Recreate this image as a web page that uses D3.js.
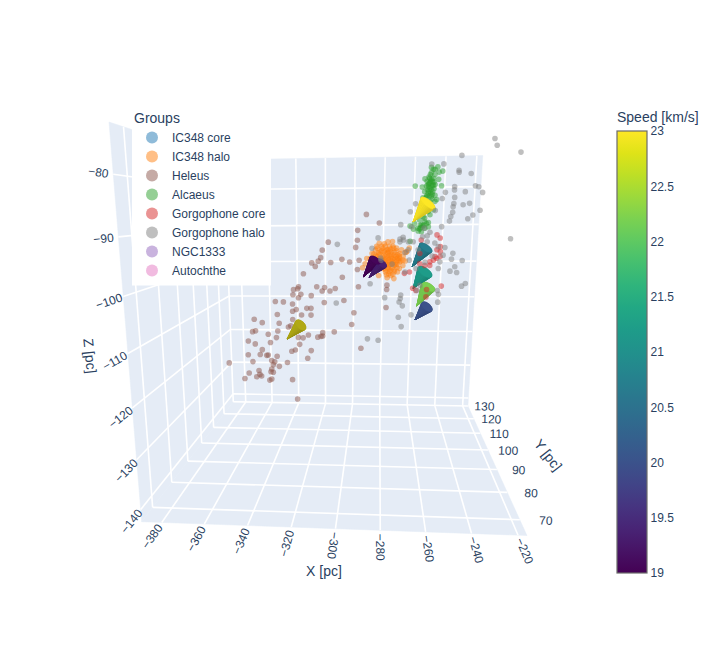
<!DOCTYPE html>
<html><head><meta charset="utf-8">
<script src="https://cdnjs.cloudflare.com/ajax/libs/d3/7.8.5/d3.min.js"></script>
<style>html,body{margin:0;padding:0;background:#fff}svg{display:block;font-family:"Liberation Sans",Arial,sans-serif}</style>
</head><body><div id="chart"></div>
<script>
// ---------- axis values ----------
const xDomain = [-389.5, -216.2], yDomain = [65, 130], zDomain = [-142.5, -72];
const xTicks = [-380,-360,-340,-320,-300,-280,-260,-240,-220];
const yTicks = [70,80,90,100,110,120,130];
const zTicks = [-140,-130,-120,-110,-100,-90,-80];
const speedDomain = [19, 23];
const speedTicks = [19,19.5,20,20.5,21,21.5,22,22.5,23];
const groupNames = ["IC348 core","IC348 halo","Heleus","Alcaeus","Gorgophone core","Gorgophone halo","NGC1333","Autochthe"];
const groupColors = ["#1f77b4","#ff7f0e","#8c564b","#2ca02c","#d62728","#7f7f7f","#9467bd","#e377c2"];
// depth of the stars along Y cannot be read: an estimate
const planeY = 100.75;

// ---------- stars: [x, z] in pc ----------
const heleus = [[-295,-90.4],[-295.1,-92.6],[-296,-94.2],[-311.4,-93],[-314.8,-94.8],[-315.7,-96.5],[-317.1,-97.3],[-320.8,-97.7],[-318.8,-98.5],[-310,-97.6],[-303.7,-96.9],[-299.3,-97.5],[-294,-97.1],[-294.9,-99.2],[-325.6,-100.2],[-303.4,-101],[-318,-103.2],[-313.5,-103.4],[-314.9,-104.2],[-310.4,-104.2],[-307.4,-103.6],[-328.5,-103.2],[-329,-103.7],[-331.4,-103.9],[-327.2,-105],[-328.6,-105.8],[-331.8,-105.1],[-321.2,-105.3],[-294.2,-103.2],[-342.1,-106.7],[-337.4,-106.8],[-332.1,-107.3],[-313.7,-106.9],[-302.4,-106.4],[-296.6,-109.3],[-330,-108.6],[-332.1,-109],[-323.8,-108.3],[-321.4,-108.3],[-341.1,-109.8],[-326.9,-109.9],[-321.4,-109.9],[-297.8,-112.1],[-354.8,-111],[-350.1,-111.8],[-332.1,-111],[-340.1,-111.9],[-356,-114],[-354.2,-113.8],[-341,-113.8],[-334.7,-112.8],[-333.3,-112.5],[-346.7,-114.6],[-341.9,-115.4],[-314.6,-114.1],[-307.9,-113.9],[-323,-114.7],[-317.5,-115.2],[-315.6,-115],[-314.6,-114.9],[-328.9,-115.3],[-326.1,-115.4],[-358.7,-116.3],[-354.6,-117],[-345.5,-116.6],[-328.2,-117],[-292.3,-117.8],[-350.5,-118.4],[-321.4,-118.5],[-332.9,-118.7],[-330.8,-118.4],[-351.8,-119.6],[-359,-119.7],[-347.9,-119.8],[-347,-119.7],[-341.7,-120],[-323.5,-120.4],[-356.3,-121.4],[-370.7,-121.8],[-345,-121.1],[-343.2,-121.4],[-335.6,-121.5],[-340.5,-122.5],[-344.1,-122.1],[-345.1,-123.2],[-345.6,-123.9],[-344.2,-124],[-352.8,-123.6],[-358.8,-124.3],[-352.3,-124.6],[-351.3,-125],[-354.3,-125.2],[-361.5,-125.7],[-346.4,-126],[-345.2,-125.7],[-332.7,-125.8],[-329.8,-130.7],[-290.3,-86.9],[-283.1,-88.8],[-278.1,-102.8],[-278.2,-103.8],[-278.3,-108]];
const ic348Halo = [[-275.6,-92.9],[-278.1,-93],[-280.1,-93.4],[-282.9,-93.3],[-281.6,-94],[-284.3,-94],[-277.2,-94],[-274.9,-94.4],[-279.1,-94.8],[-282,-95.2],[-284.9,-94.8],[-276.2,-95.2],[-273.3,-95],[-286.8,-95.6],[-280.1,-96],[-277.2,-96],[-274.3,-96],[-271.4,-95.6],[-269.5,-96.2],[-285.8,-96.7],[-282.9,-96.7],[-279.1,-96.9],[-275.3,-96.9],[-272.4,-96.7],[-270.8,-97.3],[-268.2,-97.3],[-289.7,-96.7],[-287.7,-98],[-282,-97.9],[-278.5,-98],[-275.6,-97.9],[-272.8,-98],[-269.5,-98.3],[-292,-98.8],[-280.1,-99],[-277.2,-99],[-274.3,-99.3],[-271.4,-99],[-277.2,-100.2],[-274.9,-100.3],[-282.9,-100.6],[-278.1,-101.1],[-274.3,-101.3],[-283.9,-98],[-267.6,-95.2],[-284.9,-97.5],[-281,-97.1],[-277.2,-97.5],[-274.3,-97.1],[-290.6,-97.9],[-272.4,-99.8],[-270.5,-94.8],[-268,-95.3],[-266.2,-94.4],[-283.9,-94.4],[-281,-94.4],[-278.1,-94.7],[-280.1,-95.2],[-278.1,-95.4],[-282.9,-95.7],[-281,-96.3],[-278.1,-96.3],[-276.2,-96.3],[-273.3,-96.3],[-283.9,-96.2],[-282,-97.3],[-279.1,-97.5],[-276.2,-97.3],[-273.3,-97.5],[-271.4,-97.5],[-280.1,-98.3],[-277.2,-98.3],[-274.3,-98.3],[-276.2,-99.4],[-279.1,-99.8],[-282,-99],[-271.4,-96.7],[-269.5,-97.1],[-285.8,-95.7],[-287.7,-96.7],[-275.3,-94],[-273.3,-94.4],[-279.5,-94],[-276.5,-94.6],[-281.5,-95],[-277.5,-95.1],[-274.5,-95.3],[-283.2,-95.4],[-279,-95.7],[-275.7,-95.8],[-272.5,-95.9],[-284.6,-96.1],[-280.7,-96.6],[-277.8,-96.7],[-274.8,-96.6],[-271.7,-96.2],[-283.2,-97],[-280.3,-97.2],[-277.7,-97.1],[-275,-97.6],[-272.3,-97.1],[-281.4,-97.8],[-278.9,-98.1],[-276.4,-98],[-273.6,-98.1],[-280.9,-98.7],[-278,-98.8],[-275.4,-98.8],[-272.7,-98.7],[-279.2,-99.3],[-276.9,-99.6],[-274.1,-99.7],[-278.5,-100.4],[-276,-100.6]];
const alcaeus = [[-252.4,-76.9],[-254.7,-77.4],[-249.7,-77.8],[-251.6,-78],[-256.2,-78.5],[-259,-79.4],[-254.5,-79.3],[-251.7,-79.5],[-256.3,-80.2],[-264.1,-80.9],[-260.3,-81.1],[-254.3,-80.8],[-250,-80.9],[-257.5,-81.7],[-254.6,-82.1],[-257.6,-82.9],[-253.3,-82.9],[-256,-84.2],[-252.3,-83.8],[-259.5,-85.3],[-260.4,-86.7],[-256.6,-86.4],[-253.8,-86],[-258.4,-87.8],[-261.1,-88.2],[-263.8,-89],[-256.3,-88.8],[-266.2,-89.5],[-261.8,-90],[-258.1,-90],[-259.9,-90.8],[-261.7,-90.6],[-256.2,-89.7],[-265.9,-92.9],[-255.5,-79.5],[-257.2,-80.6],[-253.5,-80.6],[-256.2,-81.3],[-258.9,-82.1],[-255.2,-83.1],[-259.7,-83.4],[-257.9,-84.2],[-255.7,-78.1],[-256.9,-79],[-253.8,-78.5],[-258.1,-80.9],[-254,-81.5],[-259.3,-87.5],[-255.6,-87.1],[-260.6,-89.3],[-264.3,-90.2],[-257.3,-89],[-255.9,-79.9],[-257.8,-79.9],[-254.1,-80.1],[-255.3,-81],[-257,-82.4],[-255.7,-82.4],[-258.2,-83.4],[-253.2,-84.2],[-255.9,-84.9],[-257.3,-85.6],[-255.8,-77],[-253.8,-77.4],[-258.3,-88.6],[-259.4,-89.7],[-260.9,-90.2],[-256.5,-79.3],[-255,-79.9],[-256.7,-80.4],[-254.9,-80.7],[-257.1,-81.1],[-255.5,-81.7],[-256.6,-82],[-254.8,-82.7],[-256.3,-83],[-257.7,-83.2],[-254.9,-83.7],[-259.9,-89.3],[-258.9,-89.3],[-260.4,-89.9]];
const gorgophoneCore = [[-251.3,-91.5],[-249.5,-92.2],[-259.8,-92.6],[-249.2,-94.1],[-249.1,-95.2],[-251,-94.8],[-249.1,-96.3],[-251,-96.7],[-252.7,-97.1],[-254.6,-97.5],[-251.9,-96.3],[-260.3,-95.6],[-260.2,-97.9],[-257.4,-98.3],[-254.6,-98.3],[-265.7,-99.8],[-268.5,-100.1],[-247.7,-103],[-263.6,-103.5],[-255.8,-103.8],[-261.8,-104],[-256,-105.5]];
const gorgophoneHalo = [[-240,-74.6],[-255.7,-76.3],[-249.3,-76.3],[-241.1,-77.7],[-241,-78.1],[-234.6,-78.4],[-232,-81],[-230.2,-81.2],[-228,-82.4],[-243,-81.1],[-243,-81.8],[-237.2,-82.2],[-247.8,-82.3],[-249.3,-83.6],[-242.7,-83.4],[-243,-84.7],[-243.3,-85.4],[-238,-85],[-234.6,-84.7],[-243.4,-86.6],[-244.3,-87.5],[-244.9,-88.5],[-232.5,-87.2],[-235.1,-88],[-228.8,-86.2],[-266.3,-86.4],[-263.6,-84.7],[-271.3,-89.2],[-252.8,-86.2],[-249,-89.7],[-265.3,-89.7],[-269.8,-92],[-271.5,-92.4],[-269.6,-92.6],[-271.5,-93],[-266.9,-93],[-283.6,-92.1],[-259.1,-91.9],[-256.6,-91.7],[-256.5,-93],[-252.3,-93.3],[-250.3,-94.1],[-246.7,-94.3],[-266.8,-94.8],[-268.5,-95.4],[-266,-97.1],[-242.2,-95.6],[-236.9,-97.2],[-242.8,-96.9],[-247.5,-96],[-249.1,-97.5],[-249.8,-99],[-240.8,-98.6],[-243.3,-99.6],[-239.6,-99.9],[-236.5,-103],[-234.5,-102.4],[-286.9,-94.4],[-281.7,-97.1],[-275.5,-98],[-268.2,-99.8],[-262.1,-99],[-287.6,-102.5],[-279.2,-105.7],[-270.2,-105.1],[-270.4,-105.9],[-269.1,-107.6],[-271,-106.7],[-271.2,-110.3],[-264,-109.7],[-269.4,-112.5],[-249.7,-104],[-249.1,-104.9],[-249.3,-106.7],[-261.3,-104],[-259.6,-102.8],[-282,-96.6],[-306.3,-93.5],[-306.8,-107],[-288.6,-115.5],[-282.4,-115.8],[-264.2,-93],[-261.3,-94.8],[-253.5,-96.2],[-258.5,-90],[-255.2,-90.9],[-257.3,-97.6]];
// halo stars that lie nearer the viewer: [x, y, z]
const gorgophoneHaloNear = [[-231.2,84.5,-73.2],[-230,84.5,-74.4],[-219.1,84.5,-75.7],[-221,84.5,-91.6]];

// ---------- mean-motion cones ----------
const coneX = [-257.6,-257.8,-257.8,-255.7,-256,-285,-281.4,-326.3];
const coneY = [97.5,97.5,97.5,97.5,97.5,97.5,97.5,97.5];
const coneZ = [-84.6,-94.1,-99.4,-102.7,-107.2,-96.8,-97.5,-111.6];
const coneU = [-7.1,-6.6,-5.7,-5.5,-5.9,-6.3,-6.6,-8.7];
const coneV = [1.95,1.95,1.95,1.95,1.95,1.95,1.95,1.95];
const coneW = [-3.9,-4.3,-3.9,-4.7,-3.4,-3.9,-3.35,-3.8];
const coneSpeed = [23,20.7,21.2,22.2,20,19.05,19.35,22.9];
const coneWidth = [0.027,0.023,0.026,0.024,0.021,0.019,0.019,0.021];
const coneTone = [1,1,1,1,1,1,1,0.74];

// ---------- scales and camera ----------
const W = 721, H = 663;
const sx = d3.scaleLinear().domain(xDomain).range([0,1]);
const sy = d3.scaleLinear().domain(yDomain).range([0,1]);
const sz = d3.scaleLinear().domain(zDomain).range([0,1]);
const depth = (u,v,w) => 1 - 0.0525*u + 0.6286*v - 0.15*w;
function cam(u,v,w){
  const d = depth(u,v,w);
  return [(141.7 + 357.6*u + 238.2*v - 49.05*w)/d, (521.7 - 14.3*u + 132.5*v - 418*w)/d];
}
const proj = (x,y,z) => cam(sx(x),sy(y),sz(z));
const speedColor = s => d3.interpolateViridis((s-speedDomain[0])/(speedDomain[1]-speedDomain[0]));
const ink = "#2a3f5f", wallFill = "#e5ecf6";

const svg = d3.select("#chart").append("svg").attr("width",W).attr("height",H).attr("viewBox",[0,0,W,H]);
const line = d3.line();

// walls
const wallsG = svg.append("g");
const walls = [
  [[0,0,0],[1,0,0],[1,1,0],[0,1,0]],
  [[0,0,0],[0,1,0],[0,1,1],[0,0,1]],
  [[0,1,0],[1,1,0],[1,1,1],[0,1,1]]
];
wallsG.selectAll("path.wall").data(walls).join("path").attr("class","wall")
  .attr("d",q=>line(q.map(p=>cam(...p)))+"Z").attr("fill",wallFill).attr("stroke",wallFill).attr("stroke-width",.5);

// grid
const gridSegs = [];
xTicks.forEach(t=>{const u=sx(t);gridSegs.push([[u,0,0],[u,1,0]],[[u,1,0],[u,1,1]]);});
yTicks.forEach(t=>{const v=sy(t);gridSegs.push([[0,v,0],[1,v,0]],[[0,v,0],[0,v,1]]);});
zTicks.forEach(t=>{const w=sz(t);gridSegs.push([[0,0,w],[0,1,w]],[[0,1,w],[1,1,w]]);});
wallsG.selectAll("path.grid").data(gridSegs).join("path").attr("class","grid")
  .attr("d",s=>line(s.map(p=>cam(...p)))).attr("fill","none").attr("stroke","#fff").attr("stroke-width",1.6);

// tick labels
function tickLabels(ticks, at, away, mag){
  svg.append("g").attr("fill",ink).attr("font-size",12).attr("text-anchor","middle")
    .selectAll("text").data(ticks).join("text")
    .attr("dy","0.35em")
    .attr("transform",t=>{
      const a = cam(...at(t)), b = cam(...away(t));
      let dx=a[0]-b[0], dy=a[1]-b[1]; const n=Math.hypot(dx,dy); dx/=n; dy/=n;
      let ang = Math.atan2(dy,dx)*180/Math.PI;
      while(ang>100) ang-=180;
      while(ang<=-80) ang+=180;
      const m = mag(t);
      return `translate(${a[0]+dx*m},${a[1]+dy*m}) rotate(${ang})`;
    }).text(d3.format("d"));
}
tickLabels(xTicks, t=>[sx(t),0,0], t=>[sx(t),0.2,0], ()=>17);
tickLabels(zTicks, t=>[0,0,sz(t)], t=>[0,0.2,sz(t)], ()=>15);
tickLabels(yTicks, t=>[1,sy(t),0], t=>[0.8,sy(t),0], t=>26/depth(1,sy(t),0));

// axis titles
const axisTitles = [["X [pc]",324,571,0],["Y [pc]",548,455,52],["Z [pc]",90,356,84]];
svg.append("g").attr("fill",ink).attr("font-size",14).attr("text-anchor","middle")
  .selectAll("text").data(axisTitles).join("text").attr("dy","0.35em")
  .attr("transform",d=>`translate(${d[1]},${d[2]}) rotate(${d[3]})`).text(d=>d[0]);

// stars drawn below the cones
function drawStars(rows){
  svg.append("g").selectAll("circle").data(rows).join("circle")
    .attr("cx",d=>proj(d[0],d[1],d[2])[0]).attr("cy",d=>proj(d[0],d[1],d[2])[1])
    .attr("r",2.8).attr("fill",d=>groupColors[d[3]]).attr("opacity",.5);
}
drawStars([
  ...heleus.map(p=>[p[0],planeY,p[1],2]),
  ...ic348Halo.map(p=>[p[0],planeY,p[1],1]),
  ...alcaeus.map(p=>[p[0],planeY,p[1],3])
]);

// cones
const cross=(a,b)=>[a[1]*b[2]-a[2]*b[1],a[2]*b[0]-a[0]*b[2],a[0]*b[1]-a[1]*b[0]];
const unit=a=>{const n=Math.hypot(...a);return a.map(d=>d/n);};
const light = unit([-0.2,-0.8,0.55]);
const dot=(a,b)=>a[0]*b[0]+a[1]*b[1]+a[2]*b[2];
const facets=[];
coneX.forEach((_,i)=>{
  const B=[sx(coneX[i]),sy(coneY[i]),sz(coneZ[i])];
  const T=[sx(coneX[i]+coneU[i]),sy(coneY[i]+coneV[i]),sz(coneZ[i]+coneW[i])];
  const ax=unit([T[0]-B[0],T[1]-B[1],T[2]-B[2]]);
  const e1=unit(cross(ax,[0,0,1])), e2=unit(cross(ax,e1));
  const r=coneWidth[i], col=d3.rgb(speedColor(coneSpeed[i])), N=28, tone=coneTone[i];
  const rim=d3.range(N).map(k=>{const t=k/N*2*Math.PI;
    const c=Math.cos(t),s=Math.sin(t);
    return [B[0]+r*(c*e1[0]+s*e2[0]),B[1]+r*(c*e1[1]+s*e2[1]),B[2]+r*(c*e1[2]+s*e2[2])];});
  const shade=f=>{const g=f*tone;return d3.rgb(Math.min(255,col.r*g),Math.min(255,col.g*g),Math.min(255,col.b*g)).formatRgb();};
  d3.range(N).forEach(k=>{
    const a=rim[k],b=rim[(k+1)%N];
    const t=(k+.5)/N*2*Math.PI;
    const n=unit([0,1,2].map(j=>Math.cos(t)*e1[j]+Math.sin(t)*e2[j]+0.3*ax[j]));
    const f=0.86+0.2*Math.max(0,dot(n,light));
    facets.push({c:i,tri:[T,a,b],d:depth(...[0,1,2].map(j=>(T[j]+a[j]+b[j])/3)),fill:shade(f)});
  });
  facets.push({c:i,tri:rim,d:depth(...B),fill:shade(1.0)});
});
facets.sort((a,b)=>b.d-a.d);
svg.append("g").selectAll("path").data(facets).join("path")
  .attr("d",f=>line(f.tri.map(p=>cam(...p)))+"Z").attr("fill",f=>f.fill).attr("stroke",f=>f.fill).attr("stroke-width",.4).attr("stroke-linejoin","round");

// stars drawn above the cones
drawStars([
  ...gorgophoneCore.map(p=>[p[0],planeY,p[1],4]),
  ...gorgophoneHalo.map(p=>[p[0],planeY,p[1],5]),
  ...gorgophoneHaloNear.map(p=>[p[0],p[1],p[2],5])
]);

// legend
const legend = svg.append("g");
legend.append("rect").attr("x",132).attr("y",108).attr("width",139).attr("height",177.5).attr("fill","#fff");
legend.append("text").attr("x",134).attr("y",123).attr("font-size",14).attr("fill",ink).text("Groups");
const li = legend.selectAll("g.item").data(groupNames).join("g").attr("class","item")
  .attr("transform",(d,i)=>`translate(0,${137.5+19*i})`);
li.append("circle").attr("cx",152).attr("r",6).attr("fill",(d,i)=>groupColors[i]).attr("opacity",.5);
li.append("text").attr("x",172).attr("dy","0.35em").attr("font-size",12).attr("fill",ink).text(d=>d);

// colourbar
const barY = d3.scaleLinear().domain(speedDomain).range([573,131]);
const defs = svg.append("defs");
const grad = defs.append("linearGradient").attr("id","viridis").attr("x1",0).attr("x2",0).attr("y1",1).attr("y2",0);
grad.selectAll("stop").data(d3.range(0,1.0001,.05)).join("stop")
  .attr("offset",d=>d).attr("stop-color",d=>d3.interpolateViridis(d));
svg.append("rect").attr("x",617).attr("y",barY(23)).attr("width",30).attr("height",barY(19)-barY(23))
  .attr("fill","url(#viridis)").attr("stroke","#6b6b6b").attr("stroke-width",1.2);
const barAxis = svg.append("g").attr("transform","translate(647,0)")
  .call(d3.axisRight(barY).tickValues(speedTicks).tickSize(0).tickPadding(3.5).tickFormat(d3.format("")));
barAxis.select(".domain").remove();
barAxis.selectAll("text").attr("fill",ink).attr("font-size",12).attr("font-family","inherit");
svg.append("text").attr("x",617).attr("y",121.5).attr("font-size",14).attr("fill",ink).text("Speed [km/s]");
</script></body></html>
